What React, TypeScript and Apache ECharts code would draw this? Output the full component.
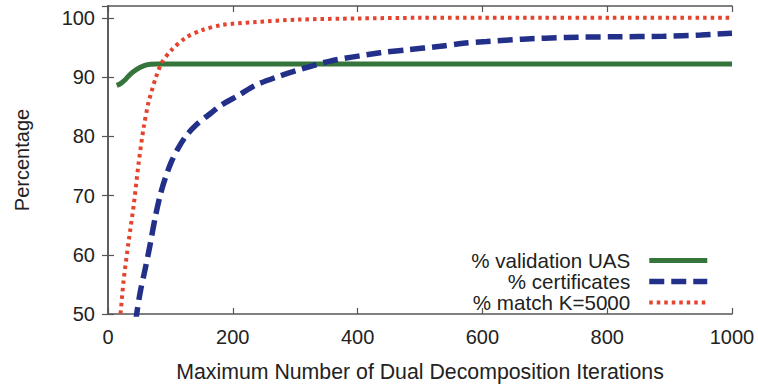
import React, { useEffect, useRef } from "react";
import * as echarts from "echarts";

const uasIters = [14, 20, 28, 36, 46, 57, 68, 80, 100, 200, 300, 400, 500, 600, 700, 800, 900, 1000];
const uasValues = [88.6, 88.9, 89.6, 90.5, 91.3, 91.9, 92.15, 92.2, 92.2, 92.2, 92.2, 92.2, 92.2, 92.2, 92.2, 92.2, 92.2, 92.2];

const certIters = [40, 46, 52, 60, 68, 76, 84, 92, 102, 113, 126, 142, 161, 182, 209, 236, 270, 302, 356, 436, 479, 532, 569, 607, 665, 735, 810, 890, 950, 1000];
const certValues = [45, 50, 53.9, 57.8, 62.0, 66.5, 70.2, 73.0, 75.8, 78.1, 80.2, 82.0, 83.6, 85.3, 86.9, 88.6, 90.0, 91.1, 92.7, 94.1, 94.6, 95.2, 95.7, 96.0, 96.4, 96.7, 96.8, 96.9, 97.1, 97.4];

const matchIters = [15, 20, 25, 33, 41, 49, 57, 65, 68, 76, 86, 102, 124, 150, 183, 236, 305, 400, 500, 600, 700, 800, 900, 1000];
const matchValues = [45, 50, 55.6, 62.2, 68.2, 75.4, 81.4, 85.8, 86.9, 89.7, 92.4, 94.6, 96.6, 97.9, 98.8, 99.3, 99.7, 99.9, 100, 100, 100, 100, 100, 100];

const xTicks = { min: 0, max: 1000, interval: 200 };
const yTicks = { min: 50, max: 102, interval: 10 };

const seriesNames = ["% validation UAS", "% certificates", "% match K=5000"];
const xTitle = "Maximum Number of Dual Decomposition Iterations";
const yTitle = "Percentage";

const zip = (xs: number[], ys: number[]) => xs.map((x, i) => [x, ys[i]]);

const FONT = "Liberation Sans";
const TEXT = "#222";
const FRAME = "#555";

export default function App() {
  const ref = useRef<HTMLDivElement>(null);
  useEffect(() => {
    if (!ref.current) return;
    const chart = echarts.init(ref.current, undefined, { renderer: "svg" });
    const axisCommon = {
      type: "value" as const,
      splitLine: { show: false },
      axisLine: { show: true, lineStyle: { color: FRAME, width: 1.5 } },
      axisTick: { show: true, inside: true, length: 6, lineStyle: { color: FRAME, width: 1.2 } },
    };
    const colors = ["#35743a", "#22308a", "#e4432d"];
    chart.setOption({
      animation: false,
      grid: { left: 108, right: 26, top: 6, bottom: 66 },
      xAxis: [
        {
          ...axisCommon,
          ...xTicks,
          position: "bottom",
          axisLabel: { fontFamily: FONT, fontSize: 20, color: TEXT, margin: 13, formatter: (v: number) => String(v) },
          name: xTitle,
          nameLocation: "middle",
          nameGap: 47,
          nameTextStyle: { fontFamily: FONT, fontSize: 21.3, color: TEXT },
        },
        {
          ...axisCommon,
          ...xTicks,
          position: "top",
          axisLabel: { show: false },
        },
      ],
      yAxis: [
        {
          ...axisCommon,
          ...yTicks,
          position: "left",
          axisLabel: { fontFamily: FONT, fontSize: 20, color: TEXT, margin: 13, showMaxLabel: false },
          name: yTitle,
          nameLocation: "middle",
          nameGap: 76,
          nameTextStyle: { fontFamily: FONT, fontSize: 20, color: TEXT },
        },
        {
          ...axisCommon,
          ...yTicks,
          position: "right",
          axisLabel: { show: false },
        },
      ],
      legend: {
        orient: "vertical",
        align: "right",
        right: 43,
        top: 245,
        itemWidth: 58,
        itemHeight: 10,
        itemGap: 0,
        itemStyle: { opacity: 0 },
        textStyle: { fontFamily: FONT, fontSize: 20.6, color: TEXT, lineHeight: 20.5, padding: [0, 14, 0, 0] },
        data: [
          { name: seriesNames[0], lineStyle: { width: 5 } },
          { name: seriesNames[1], lineStyle: { width: 5.5 } },
          { name: seriesNames[2], lineStyle: { width: 4 } },
        ],
      },
      series: [
        {
          name: seriesNames[0],
          type: "line",
          data: zip(uasIters, uasValues),
          smooth: 0.3,
          showSymbol: false,
          symbol: "none",
          color: colors[0],
          lineStyle: { width: 5, color: colors[0], cap: "butt" },
          clip: true,
        },
        {
          name: seriesNames[1],
          type: "line",
          data: zip(certIters, certValues),
          smooth: 0.3,
          showSymbol: false,
          symbol: "none",
          color: colors[1],
          lineStyle: { width: 5.5, color: colors[1], type: [15, 7], cap: "butt" },
          clip: true,
        },
        {
          name: seriesNames[2],
          type: "line",
          data: zip(matchIters, matchValues),
          smooth: 0.3,
          showSymbol: false,
          symbol: "none",
          color: colors[2],
          lineStyle: { width: 4, color: colors[2], type: [3.5, 4], cap: "butt" },
          clip: true,
        },
      ],
    });
    return () => chart.dispose();
  }, []);
  return <div ref={ref} style={{ width: 758, height: 387, position: "absolute", left: 0, top: 0 }} />;
}
